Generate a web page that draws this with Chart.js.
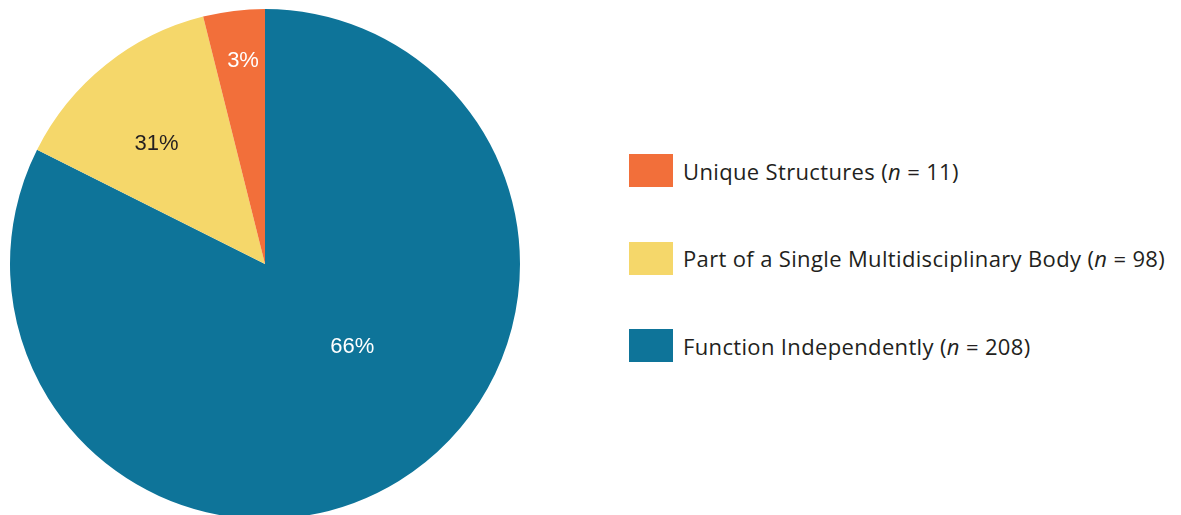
<!DOCTYPE html>
<html>
<head>
<meta charset="utf-8">
<script src="https://cdn.jsdelivr.net/npm/chart.js@4"></script>
<style>
  html, body { margin: 0; padding: 0; background: #fff; }
  body { width: 1181px; height: 515px; overflow: hidden; position: relative; font-family: "Liberation Sans", Arial, sans-serif; }
  #pie-wrap { position: absolute; left: 0; top: -1px; width: 530px; height: 530px; }
  #legend { position: absolute; left: 629px; top: 154px; }
  .item { display: flex; align-items: center; height: 33px; margin-bottom: 54.5px; color: #231f20; font-family: "Open Sans", sans-serif; font-size: 22px; letter-spacing: 0.35px; }
  .swatch { width: 44px; height: 33px; margin-right: 10px; flex: none; }
</style>
</head>
<body>
<div id="pie-wrap"><canvas id="pieChart"></canvas></div>
<div id="legend"></div>
<script>
// slices, clockwise from 12 o'clock
const categories = ['Function Independently', 'Part of a Single Multidisciplinary Body', 'Unique Structures'];
const counts = [208, 98, 11];
// slice sizes as drawn in the picture (share of the circle, %)
const sliceShares = [82.4, 13.7, 3.9];
const percentLabels = ['66%', '31%', '3%'];
const colors = ['#0e7499', '#f5d76a', '#f26f3a'];
const labelColors = ['#ffffff', '#231f20', '#ffffff'];
// where each label sits: fraction through the slice angle, fraction of radius
const labelPlace = [
  { t: 0.448, r: 0.467 },
  { t: 0.44, r: 0.64 },
  { t: 0.565, r: 0.81 }
];

// legend lists the slices in reverse order
const legend = document.getElementById('legend');
for (let i = categories.length - 1; i >= 0; i--) {
  const item = document.createElement('div');
  item.className = 'item';
  item.innerHTML = `<span class="swatch" style="background:${colors[i]}"></span>` +
    `<span>${categories[i]} (<i>n</i> = ${counts[i]})</span>`;
  legend.appendChild(item);
}

const sliceLabels = {
  id: 'sliceLabels',
  afterDatasetsDraw(chart) {
    const ctx = chart.ctx;
    const arcs = chart.getDatasetMeta(0).data;
    ctx.save();
    ctx.font = '22px "Liberation Sans", Arial, sans-serif';
    ctx.textAlign = 'center';
    ctx.textBaseline = 'middle';
    arcs.forEach((arc, i) => {
      const p = arc.getProps(['x', 'y', 'startAngle', 'endAngle', 'outerRadius'], true);
      const a = p.startAngle + (p.endAngle - p.startAngle) * labelPlace[i].t;
      const r = p.outerRadius * labelPlace[i].r;
      ctx.fillStyle = labelColors[i];
      ctx.fillText(percentLabels[i], p.x + Math.cos(a) * r, p.y + Math.sin(a) * r + 2);
    });
    ctx.restore();
  }
};

const ctx = document.getElementById('pieChart').getContext('2d');
new Chart(ctx, {
  type: 'pie',
  data: {
    labels: categories,
    datasets: [{
      data: sliceShares,
      backgroundColor: colors,
      borderWidth: 0
    }]
  },
  options: {
    responsive: true,
    maintainAspectRatio: false,
    animation: false,
    layout: { padding: 10 },
    plugins: {
      legend: { display: false },
      tooltip: { enabled: false }
    }
  },
  plugins: [sliceLabels]
});
</script>
</body>
</html>
